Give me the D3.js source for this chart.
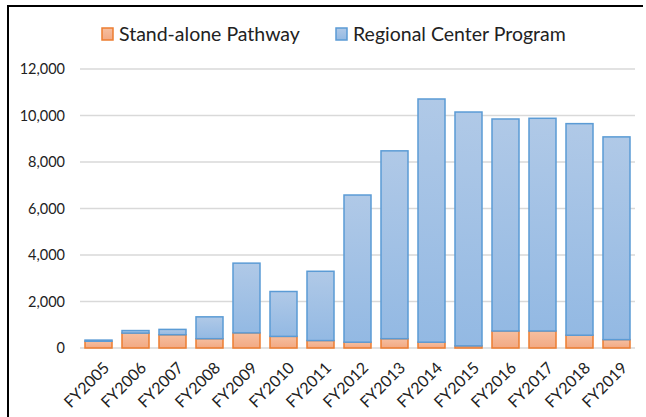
<!DOCTYPE html>
<html>
<head>
<meta charset="utf-8">
<script src="https://cdn.jsdelivr.net/npm/d3@7"></script>
<style>
  body { margin: 0; background: #fff; }
  text { font-family: Lato, "Open Sans", sans-serif; fill: #222; }
</style>
</head>
<body>
<script>
// data
var years = ["FY2005","FY2006","FY2007","FY2008","FY2009","FY2010","FY2011","FY2012",
             "FY2013","FY2014","FY2015","FY2016","FY2017","FY2018","FY2019"];
var standAlone = [290, 640, 570, 400, 650, 500, 320, 250, 400, 250, 90, 730, 730, 550, 360];
var regional   = [50, 110, 230, 940, 3000, 1930, 2980, 6330, 8080, 10460, 10060, 9120, 9150, 9100, 8720];
var yTicks = [0, 2000, 4000, 6000, 8000, 10000, 12000];
var seriesNames = ["Stand-alone Pathway", "Regional Center Program"];

var width = 646, height = 417;
var svg = d3.select("body").append("svg")
    .attr("width", width).attr("height", height);

// gradients for bar fills
var defs = svg.append("defs");
var gOr = defs.append("linearGradient").attr("id", "gOr").attr("x1", 0).attr("y1", 0).attr("x2", 0).attr("y2", 1);
gOr.append("stop").attr("offset", "0%").attr("stop-color", "#f6bfa0");
gOr.append("stop").attr("offset", "100%").attr("stop-color", "#f2a983");
var gBl = defs.append("linearGradient").attr("id", "gBl").attr("x1", 0).attr("y1", 0).attr("x2", 0).attr("y2", 1);
gBl.append("stop").attr("offset", "0%").attr("stop-color", "#b0c9e7");
gBl.append("stop").attr("offset", "100%").attr("stop-color", "#93b9e3");

// chart frame (left + top edges visible)
svg.append("path")
    .attr("d", "M8,417 V6 H643")
    .attr("fill", "none").attr("stroke", "#000").attr("stroke-width", 2);

var x = d3.scaleBand().domain(years).range([80, 635]).paddingInner(0.27).paddingOuter(0.135);
var y = d3.scaleLinear().domain([0, 12000]).range([348, 69]);

// gridlines
svg.append("g").selectAll("line")
    .data(yTicks)
    .enter().append("line")
    .attr("x1", 80).attr("x2", 635)
    .attr("y1", function(d) { return y(d); })
    .attr("y2", function(d) { return y(d); })
    .attr("stroke", "#d9d9d9").attr("stroke-width", 1.5);

// y axis labels
var yAxis = d3.axisLeft(y).tickValues(yTicks).tickSize(0).tickPadding(0).tickFormat(d3.format(","));
svg.append("g")
    .attr("transform", "translate(65,0)")
    .call(yAxis)
    .call(function(g) { g.select(".domain").remove(); })
    .selectAll("text")
    .style("font-size", "14.5px")
    .style("font-family", "Lato, 'Open Sans', sans-serif")
    .attr("fill", "#222");

// stacked bars
var rows = years.map(function(d, i) { return { year: d, sa: standAlone[i], rc: regional[i] }; });
var stack = d3.stack().keys(["sa", "rc"])(rows);
var fills = ["url(#gOr)", "url(#gBl)"];
var strokes = ["#ed7d31", "#5b9bd5"];

svg.append("g").selectAll("g")
    .data(stack)
    .enter().append("g")
    .attr("fill", function(d, i) { return fills[i]; })
    .attr("stroke", function(d, i) { return strokes[i]; })
    .attr("stroke-width", 1.5)
    .selectAll("rect")
    .data(function(d) { return d; })
    .enter().append("rect")
    .attr("x", function(d) { return x(d.data.year); })
    .attr("width", x.bandwidth())
    .attr("y", function(d) { return y(d[1]); })
    .attr("height", function(d) { return y(d[0]) - y(d[1]); });

// x axis labels, rotated
var xAxis = d3.axisBottom(x).tickSize(0).tickPadding(0);
svg.append("g")
    .attr("transform", "translate(4,361)")
    .call(xAxis)
    .call(function(g) { g.select(".domain").remove(); })
    .selectAll("text")
    .attr("transform", "rotate(-45)")
    .attr("text-anchor", "end")
    .attr("dy", "0.7em")
    .attr("dx", "0")
    .style("font-size", "16px")
    .style("font-family", "Lato, 'Open Sans', sans-serif")
    .attr("fill", "#222");

// legend
var legendX = [102, 336];
var legend = svg.append("g").selectAll("g")
    .data(seriesNames)
    .enter().append("g")
    .attr("transform", function(d, i) { return "translate(" + legendX[i] + ",28)"; });
legend.append("rect")
    .attr("width", 11).attr("height", 12)
    .attr("fill", function(d, i) { return fills[i]; })
    .attr("stroke", function(d, i) { return strokes[i]; })
    .attr("stroke-width", 1.5);
legend.append("text")
    .attr("x", 17).attr("y", 6)
    .attr("dy", "0.35em")
    .style("font-size", "19.5px")
    .text(function(d) { return d; });
</script>
</body>
</html>
